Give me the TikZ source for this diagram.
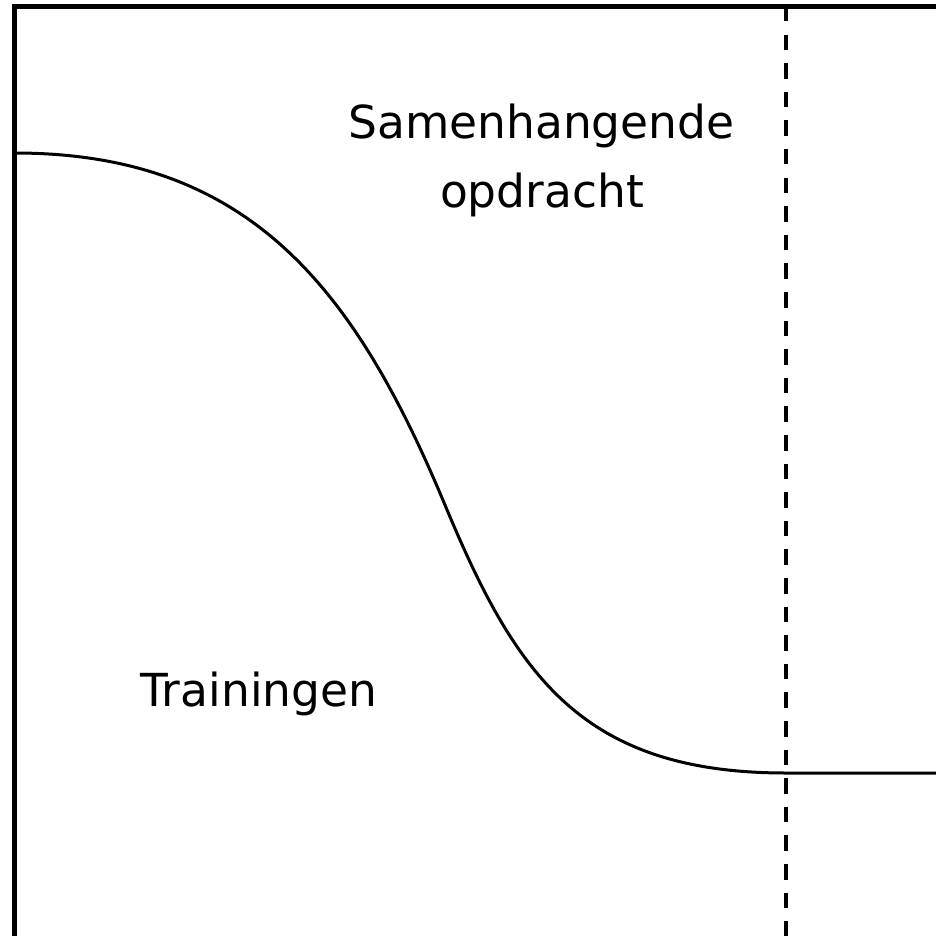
\documentclass[tikz,border=0pt]{standalone}
\usepackage{fontspec}
\setmainfont{DejaVu Sans}
\begin{document}
\begin{tikzpicture}[x=1pt,y=-1pt,
  frame/.style={line width=4.3pt},
  curveline/.style={line width=3pt},
  divider/.style={line width=4pt, dash pattern=on 15.5pt off 13.1pt},
  lbl/.style={anchor=base, inner sep=0pt, font=\fontsize{45.5}{50}\selectfont}]
\useasboundingbox (0,0) rectangle (935,936);
\coordinate (fbl) at (14.5,940);
\coordinate (ftl) at (14.5,6.5);
\coordinate (ftr) at (940,6.5);
\coordinate (cstart) at (14.5,153);
\coordinate (cmid) at (445,505);
\coordinate (cend) at (786,773);
\coordinate (rend) at (940,773);
\coordinate (dtop) at (786,6);
\coordinate (dbot) at (786,960);
\draw[divider] (dtop) -- (dbot);
\draw[frame] (fbl) -- (ftl) -- (ftr);
\draw[curveline] (cstart) .. controls (250,153) and (355,289) .. (cmid)
  .. controls (515,673) and (580,773) .. (cend) -- (rend);
\node[lbl] (samen) at (541.5,139) {Samenhangende};
\node[lbl] (opdr) at (542,207) {opdracht};
\node[lbl] (train) at (259,706) {Trainingen};
\end{tikzpicture}
\end{document}
